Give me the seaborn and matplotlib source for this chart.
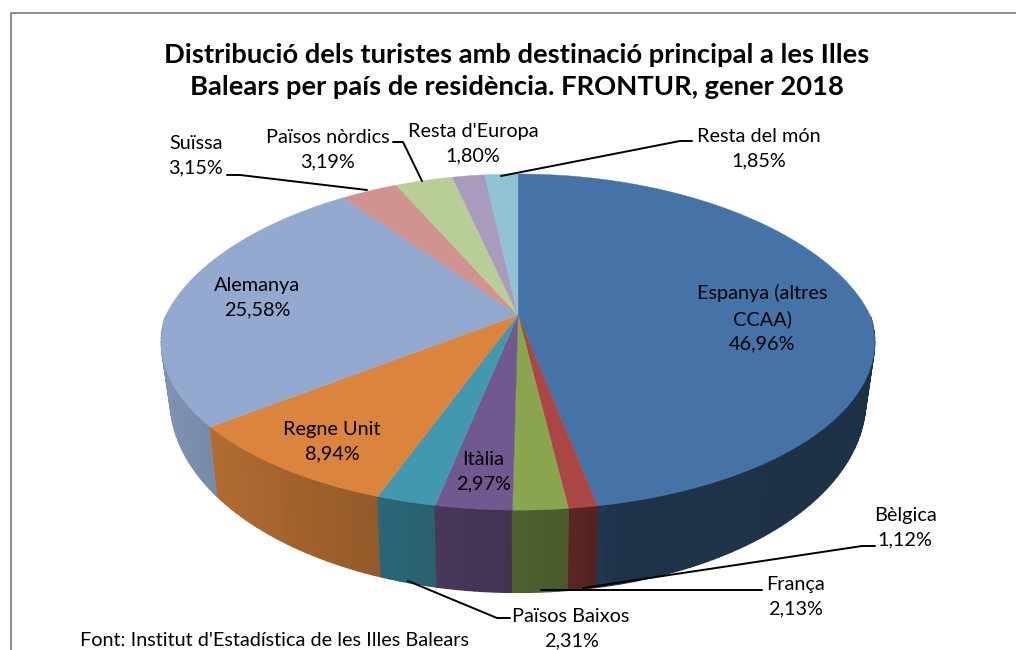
import numpy as np
import matplotlib
matplotlib.use("Agg")
import matplotlib.pyplot as plt
import seaborn as sns

# ========================
# DATA
# ========================
labels = ["Espanya (altres\nCCAA)", "Bèlgica", "França", "Itàlia", "Països Baixos", "Regne Unit",
          "Alemanya", "Suïssa", "Països nòrdics", "Resta d'Europa", "Resta del món"]
values = [46.96, 1.12, 2.13, 2.97, 2.31, 8.94, 25.58, 3.15, 3.19, 1.80, 1.85]
colors = ["#4573a7", "#aa4643", "#89a54e", "#71588f", "#4198af", "#db843d",
          "#93a9cf", "#d19392", "#b9cd96", "#a99bbd", "#92c3d4"]
title = "Distribució dels turistes amb destinació principal a les Illes\nBalears per país de residència. FRONTUR, gener 2018"
source = "Font: Institut d'Estadística de les Illes Balears"

# label centres, in pixels of the picture
label_pos = [(762, 318), (905, 528), (795, 597), (483, 472), (571, 629), (332, 442),
             (257, 298), (196, 156), (328, 150), (473, 144), (759, 149)]
leaders = {
    1: [(875, 546), (862, 546), (583, 588)],
    2: [(762, 590), (541, 590)],
    4: [(510, 618), (497, 618), (408, 581)],
    7: [(227, 175), (240, 175), (367, 190)],
    8: [(393, 142), (403, 142), (422, 181)],
    10: [(692, 141), (680, 141), (501, 176)],
}

# ========================
# PIE GEOMETRY
# ========================
CX, CY = 518, 315
A, B, P = 352, 163.7, 0.161
P_BACK = 0.226


def top_xy(theta):
    u, v = np.sin(theta), np.cos(theta)
    w = 1 + P * v
    wx = 1 + np.where(v > 0, P_BACK, P) * v
    return A * u / wx, B * v / w


def bottom_xy(theta):
    x, y = top_xy(theta)
    return 0.975 * x, 1.145 * y - 54


def wall_shade(theta):
    u = np.sin(theta)
    return np.interp(u, [-1, -0.8, -0.35, -0.1, 0.1, 0.25, 1],
                     [0.88, 0.82, 0.68, 0.6, 0.55, 0.44, 0.42])


sns.set_theme(style="white")
plt.rcParams["font.family"] = ["Lato", "DejaVu Sans"]
palette = sns.color_palette(colors)

fig = plt.figure(figsize=(10.16, 6.5), dpi=100)
ax = fig.add_axes([0, 0, 1, 1])
ax.set_xlim(0, 1016)
ax.set_ylim(650, 0)
ax.axis("off")

# chart frame
ax.plot([10.5, 10.5, 1016], [650, 12.5, 12.5], color="#8a8a8a", lw=1.4, zorder=1)

edges = np.concatenate([[0], np.cumsum(values)]) / sum(values) * 2 * np.pi

# walls first, back to front, then the top of each slice over them
quads = []
for i, col in enumerate(palette):
    n = max(3, int(values[i] * 3))
    t = np.linspace(edges[i], edges[i + 1], n + 1)
    for t0, t1 in zip(t[:-1], t[1:]):
        # the back half of the wall is hidden anyway
        if np.cos((t0 + t1) / 2) < 0:
            quads.append((t0, t1, col))
quads.sort(key=lambda q: -np.cos((q[0] + q[1]) / 2))
for t0, t1, col in quads:
    tt = np.array([t0, t1])
    x0, y0 = top_xy(tt)
    x1, y1 = bottom_xy(tt)
    px = np.concatenate([x0, x1[::-1]])
    py = np.concatenate([y0, y1[::-1]])
    shade = wall_shade((t0 + t1) / 2)
    c = tuple(np.array(col) * shade)
    ax.fill(CX + px, CY - py, color=c, lw=1.0, zorder=2)

for i, col in enumerate(palette):
    t = np.linspace(edges[i], edges[i + 1], max(4, int(values[i] * 4)))
    x, y = top_xy(t)
    ax.fill(np.r_[CX, CX + x], np.r_[CY, CY - y], color=col, lw=0.3, zorder=3)

# ========================
# TEXT
# ========================
for i, name in enumerate(labels):
    pct = f"{values[i]:.2f}%".replace(".", ",")
    ax.text(label_pos[i][0], label_pos[i][1], f"{name}\n{pct}", ha="center", va="center",
            fontsize=14.3, color="black", linespacing=1.52, zorder=5)
for pts in leaders.values():
    xs, ys = zip(*pts)
    ax.plot(xs, ys, color="black", lw=1.4, zorder=4)

ax.text(517, 71, title, ha="center", va="center", fontsize=19.7, fontweight="bold",
        color="black", linespacing=1.36, zorder=5)
ax.text(80, 640, source, ha="left", va="center", fontsize=14.3, color="black", zorder=5)

fig.savefig("out.png", dpi=100)
